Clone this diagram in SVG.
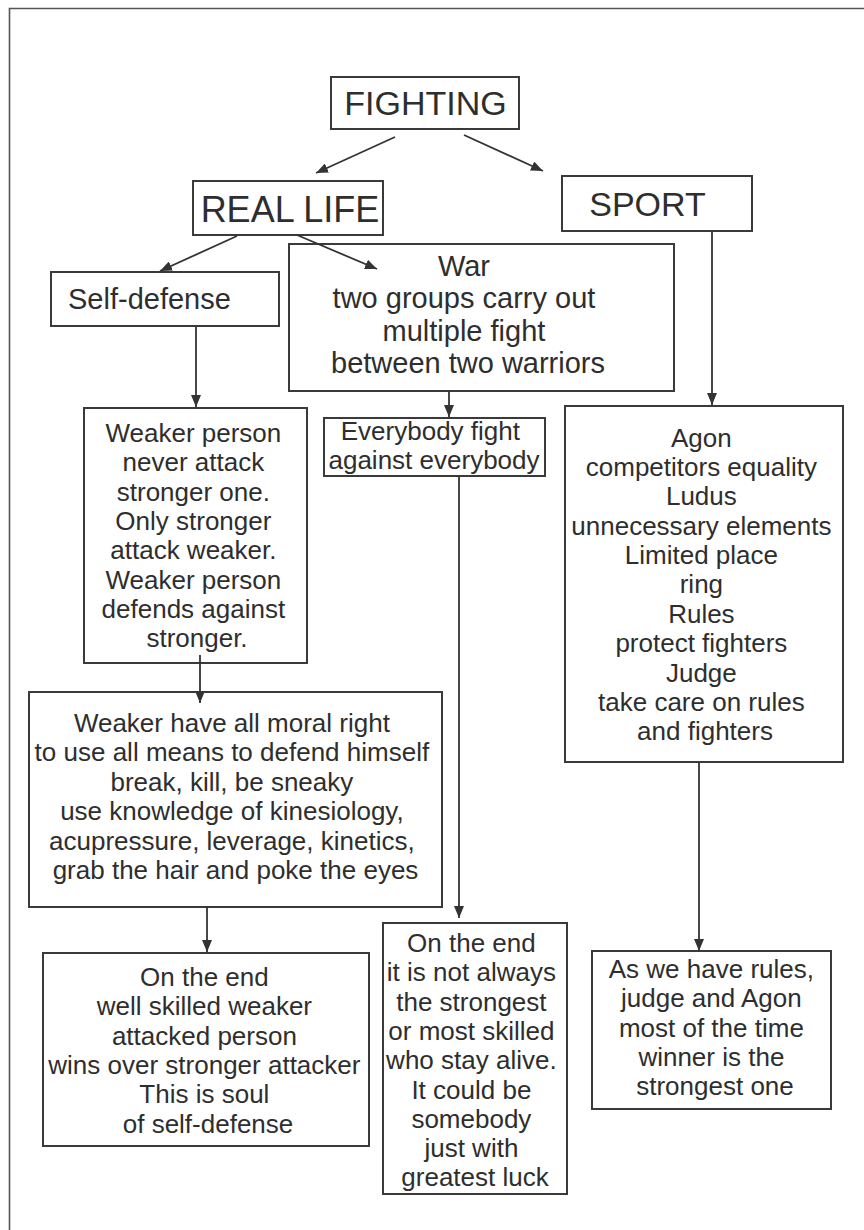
<svg xmlns="http://www.w3.org/2000/svg" width="864" height="1230" viewBox="0 0 864 1230">
<defs>
<style>
.box{fill:#fff;stroke:#3a3a3a;stroke-width:2}
.t{font-family:"Liberation Sans",Arial,sans-serif;fill:#2e2e2e;font-size:26px;text-anchor:middle}
.big{font-size:34px}
.w29{font-size:29px}
.c{stroke:#333;stroke-width:1.8;fill:none;marker-end:url(#ah)}
</style>
<marker id="ah" markerUnits="userSpaceOnUse" markerWidth="12" markerHeight="10" refX="12" refY="5" orient="auto">
<path d="M0,0 L12,5 L0,10 z" fill="#333"/>
</marker>
</defs>
<rect width="864" height="1230" fill="#fff"/>
<path d="M9.5,1230 V8.5 H864" fill="none" stroke="#555" stroke-width="1.6"/>

<g id="fighting">
<rect class="box" x="331" y="77" width="188" height="52"/>
<text class="t big" x="425.5" y="115">FIGHTING</text>
</g>

<g id="reallife">
<rect class="box" x="193" y="181" width="190" height="54"/>
<text class="t" x="290" y="222" style="font-size:36px">REAL LIFE</text>
</g>

<g id="sport">
<rect class="box" x="562" y="176" width="190" height="55"/>
<text class="t big" x="647.5" y="216">SPORT</text>
</g>

<g id="selfdefense">
<rect class="box" x="51" y="272" width="228" height="54"/>
<text class="t w29" x="68" y="309" style="text-anchor:start">Self-defense</text>
</g>

<g id="war">
<rect class="box" x="289" y="244" width="385" height="147"/>
<text class="t w29">
<tspan x="468" y="276">War</tspan>
<tspan x="468" y="308">two groups carry out</tspan>
<tspan x="468" y="341">multiple fight</tspan>
<tspan x="468" y="373">between two warriors</tspan>
</text>
</g>

<g id="weaker">
<rect class="box" x="84" y="408" width="223" height="255"/>
<text class="t">
<tspan x="197" y="442">Weaker person</tspan>
<tspan x="197" y="471.3">never attack</tspan>
<tspan x="197" y="500.6">stronger one.</tspan>
<tspan x="197" y="529.9">Only stronger</tspan>
<tspan x="197" y="559.2">attack weaker.</tspan>
<tspan x="197" y="588.5">Weaker person</tspan>
<tspan x="197" y="617.8">defends against</tspan>
<tspan x="197" y="647.1">stronger.</tspan>
</text>
</g>

<g id="everybody">
<rect class="box" x="324" y="418" width="221" height="58"/>
<text class="t">
<tspan x="434" y="440">Everybody fight</tspan>
<tspan x="434" y="469">against everybody</tspan>
</text>
</g>

<g id="agon">
<rect class="box" x="565" y="406" width="278" height="356"/>
<text class="t">
<tspan x="705" y="446.7">Agon</tspan>
<tspan x="705" y="476">competitors equality</tspan>
<tspan x="705" y="505.4">Ludus</tspan>
<tspan x="705" y="534.7">unnecessary elements</tspan>
<tspan x="705" y="564.1">Limited place</tspan>
<tspan x="705" y="593.4">ring</tspan>
<tspan x="705" y="622.8">Rules</tspan>
<tspan x="705" y="652.1">protect fighters</tspan>
<tspan x="705" y="681.5">Judge</tspan>
<tspan x="705" y="710.8">take care on rules</tspan>
<tspan x="705" y="740.2">and fighters</tspan>
</text>
</g>

<g id="moralright">
<rect class="box" x="29" y="692" width="413" height="215"/>
<text class="t">
<tspan x="235.5" y="732">Weaker have all moral right</tspan>
<tspan x="235.5" y="761.4">to use all means to defend himself</tspan>
<tspan x="235.5" y="790.8">break, kill, be sneaky</tspan>
<tspan x="235.5" y="820.2">use knowledge of kinesiology,</tspan>
<tspan x="235.5" y="849.6">acupressure, leverage, kinetics,</tspan>
<tspan x="235.5" y="879">grab the hair and poke the eyes</tspan>
</text>
</g>

<g id="endselfdefense">
<rect class="box" x="43" y="953" width="326" height="193"/>
<text class="t">
<tspan x="208" y="986">On the end</tspan>
<tspan x="208" y="1015.3">well skilled weaker</tspan>
<tspan x="208" y="1044.6">attacked person</tspan>
<tspan x="208" y="1073.9">wins over stronger attacker</tspan>
<tspan x="208" y="1103.2">This is soul</tspan>
<tspan x="208" y="1132.5">of self-defense</tspan>
</text>
</g>

<g id="endwar">
<rect class="box" x="383" y="923" width="184" height="271"/>
<text class="t">
<tspan x="475" y="952">On the end</tspan>
<tspan x="475" y="981.3">it is not always</tspan>
<tspan x="475" y="1010.6">the strongest</tspan>
<tspan x="475" y="1039.9">or most skilled</tspan>
<tspan x="475" y="1069.2">who stay alive.</tspan>
<tspan x="475" y="1098.5">It could be</tspan>
<tspan x="475" y="1127.8">somebody</tspan>
<tspan x="475" y="1157.1">just with</tspan>
<tspan x="475" y="1186.4">greatest luck</tspan>
</text>
</g>

<g id="endsport">
<rect class="box" x="592" y="951" width="239" height="158"/>
<text class="t">
<tspan x="715" y="978">As we have rules,</tspan>
<tspan x="715" y="1007.3">judge and Agon</tspan>
<tspan x="715" y="1036.6">most of the time</tspan>
<tspan x="715" y="1065.9">winner is the</tspan>
<tspan x="715" y="1095.2">strongest one</tspan>
</text>
</g>

<g id="connectors">
<line class="c" x1="395" y1="137" x2="316" y2="173"/>
<line class="c" x1="464" y1="135" x2="543" y2="171"/>
<line class="c" x1="237" y1="236" x2="160" y2="271"/>
<line class="c" x1="297" y1="235" x2="377" y2="269"/>
<line class="c" x1="712" y1="231" x2="712" y2="405"/>
<line class="c" x1="196" y1="326" x2="196" y2="407"/>
<line class="c" x1="449" y1="391" x2="449" y2="417"/>
<line class="c" x1="200" y1="655" x2="200" y2="703"/>
<line class="c" x1="459" y1="476" x2="459" y2="918"/>
<line class="c" x1="699" y1="762" x2="699" y2="951"/>
<line class="c" x1="207" y1="907" x2="207" y2="952"/>
</g>
</svg>
